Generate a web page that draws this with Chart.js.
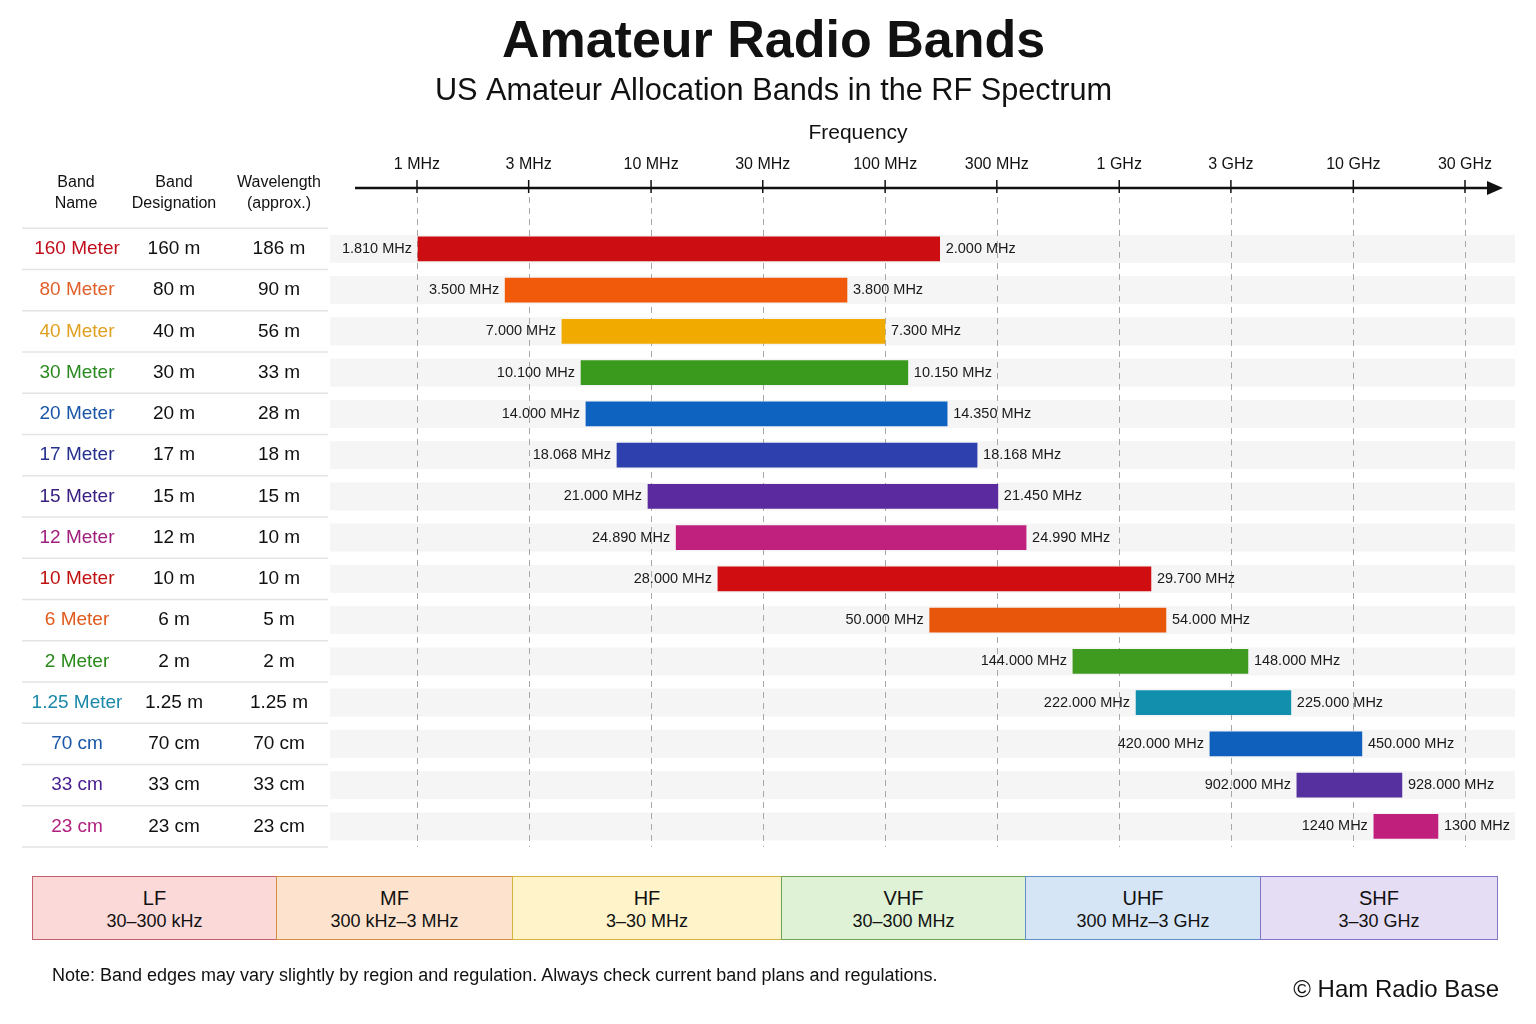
<!DOCTYPE html>
<html>
<head>
<meta charset="utf-8">
<script src="https://cdn.jsdelivr.net/npm/chart.js@4.4.1/dist/chart.umd.min.js"></script>
<style>
  body { margin: 0; background: #fff; font-family: "Liberation Sans", Arial, sans-serif; color: #111; }
  #wrap { position: relative; width: 1536px; height: 1024px; overflow: hidden; }
  #chart { position: absolute; left: 0; top: 0; }
  #bands { position: absolute; left: 33px; top: 876px; height: 64px; display: flex; }
  .band { box-sizing: border-box; height: 64px; border: 1.5px solid; margin-left: -1.5px; text-align: center; padding-top: 10px; }
  .band .n { font-size: 20px; line-height: 23px; }
  .band .r { font-size: 18px; line-height: 23px; }
  #note { position: absolute; left: 52px; top: 965px; font-size: 18px; }
  #copy { position: absolute; right: 37px; top: 975px; font-size: 24px; }
</style>
</head>
<body>
<div id="wrap">
  <canvas id="chart" width="1536" height="1024"></canvas>
  <div id="bands"></div>
  <div id="note">Note: Band edges may vary slightly by region and regulation. Always check current band plans and regulations.</div>
  <div id="copy">© Ham Radio Base</div>
</div>
<script>
// rows of the table
const bandNames = ["160 Meter", "80 Meter", "40 Meter", "30 Meter", "20 Meter", "17 Meter", "15 Meter", "12 Meter",
  "10 Meter", "6 Meter", "2 Meter", "1.25 Meter", "70 cm", "33 cm", "23 cm"];
const designations = ["160 m", "80 m", "40 m", "30 m", "20 m", "17 m", "15 m", "12 m", "10 m", "6 m", "2 m", "1.25 m", "70 cm", "33 cm", "23 cm"];
const wavelengths = ["186 m", "90 m", "56 m", "33 m", "28 m", "18 m", "15 m", "10 m", "10 m", "5 m", "2 m", "1.25 m", "70 cm", "33 cm", "23 cm"];

// edge labels printed next to each bar
const lowerEdges = ["1.810 MHz", "3.500 MHz", "7.000 MHz", "10.100 MHz", "14.000 MHz", "18.068 MHz", "21.000 MHz", "24.890 MHz",
  "28.000 MHz", "50.000 MHz", "144.000 MHz", "222.000 MHz", "420.000 MHz", "902.000 MHz", "1240 MHz"];
const upperEdges = ["2.000 MHz", "3.800 MHz", "7.300 MHz", "10.150 MHz", "14.350 MHz", "18.168 MHz", "21.450 MHz", "24.990 MHz",
  "29.700 MHz", "54.000 MHz", "148.000 MHz", "225.000 MHz", "450.000 MHz", "928.000 MHz", "1300 MHz"];

// bar extents as drawn on the frequency axis (MHz)
const barStart = [1.01, 2.38, 4.16, 5.02, 5.27, 7.15, 9.7, 12.8, 19.3, 155, 634, 1180, 2440, 5740, 12240];
const barEnd = [171, 68.7, 99.8, 125, 184, 247, 303, 400, 1366, 1583, 3546, 5410, 10880, 16130, 22990];

// axis ticks
const tickValues = [1, 3, 10, 30, 100, 300, 1000, 3000, 10000, 30000];
const tickLabels = ["1 MHz", "3 MHz", "10 MHz", "30 MHz", "100 MHz", "300 MHz", "1 GHz", "3 GHz", "10 GHz", "30 GHz"];

// ITU band strip at the bottom
const ituNames = ["LF", "MF", "HF", "VHF", "UHF", "SHF"];
const ituRanges = ["30–300 kHz", "300 kHz–3 MHz", "3–30 MHz", "30–300 MHz", "300 MHz–3 GHz", "3–30 GHz"];

const barColors = ["#cc0e12", "#f05a0a", "#f0aa00", "#3a9a1e", "#0e62c0", "#2e3fae", "#5a2a9e", "#c0207e",
  "#d00e12", "#e8560c", "#3f9a20", "#138fae", "#0e60bc", "#55309e", "#c0207c"];
const nameColors = ["#c0101e", "#e0602a", "#e0a020", "#2a8a20", "#1a56a8", "#25308e", "#3a2080", "#a0207e",
  "#c01010", "#e05a1e", "#2a8a1a", "#1a88a8", "#1a56a8", "#4a2090", "#b0207e"];
const ituFill = ["#fbd9d9", "#fde3cd", "#fff3c9", "#dff2d5", "#d5e5f5", "#e5ddf3"];
const ituBorder = ["#c2606e", "#d39148", "#d6b440", "#6ea552", "#6390c4", "#8475c6"];
const ituWidth = [246, 237, 271, 245, 237, 238];

const FONT = '"Liberation Sans", Arial, sans-serif';
const PAD_LEFT = 32;

const bandsDiv = document.getElementById('bands');
ituNames.forEach((n, i) => {
  const d = document.createElement('div');
  d.className = 'band';
  d.style.width = ituWidth[i] + 'px';
  d.style.background = ituFill[i];
  d.style.borderColor = ituBorder[i];
  d.innerHTML = '<div class="n">' + n + '</div><div class="r">' + ituRanges[i] + '</div>';
  bandsDiv.appendChild(d);
});

const decor = {
  id: 'decor',
  beforeDatasetsDraw(chart) {
    const { ctx, chartArea, scales: { x, y } } = chart;
    const rowH = (chartArea.bottom - chartArea.top) / bandNames.length;
    ctx.save();

    // row stripes
    ctx.fillStyle = '#f5f5f5';
    bandNames.forEach((_, i) => {
      const cy = y.getPixelForValue(i);
      ctx.fillRect(chartArea.left, cy - 14, chartArea.right - chartArea.left, 28);
    });

    // table
    ctx.strokeStyle = '#e4e4e4';
    ctx.lineWidth = 1.5;
    for (let k = 0; k <= bandNames.length; k++) {
      const ly = chartArea.top + k * rowH;
      ctx.beginPath();
      ctx.moveTo(22, ly);
      ctx.lineTo(chartArea.left - 2, ly);
      ctx.stroke();
    }
    ctx.textAlign = 'center';
    ctx.textBaseline = 'middle';
    ctx.fillStyle = '#111';
    ctx.font = '16px ' + FONT;
    [["Band", "Name", 76], ["Band", "Designation", 174], ["Wavelength", "(approx.)", 279]].forEach(h => {
      ctx.fillText(h[0], h[2], 183);
      ctx.fillText(h[1], h[2], 204);
    });
    ctx.font = '19px ' + FONT;
    bandNames.forEach((n, i) => {
      const cy = y.getPixelForValue(i);
      ctx.fillStyle = nameColors[i];
      ctx.fillText(n, 77, cy);
      ctx.fillStyle = '#111';
      ctx.fillText(designations[i], 174, cy);
      ctx.fillText(wavelengths[i], 279, cy);
    });

    // dashed grid lines
    ctx.strokeStyle = '#a8a8a8';
    ctx.lineWidth = 1;
    ctx.setLineDash([6, 5]);
    tickValues.forEach(v => {
      const px = Math.round(x.getPixelForValue(v)) + 0.5;
      ctx.beginPath();
      ctx.moveTo(px, 197);
      ctx.lineTo(px, chartArea.bottom);
      ctx.stroke();
    });
    ctx.setLineDash([]);

    // frequency axis with arrow
    const axY = 188;
    ctx.strokeStyle = '#111';
    ctx.fillStyle = '#111';
    ctx.lineWidth = 2.5;
    ctx.beginPath();
    ctx.moveTo(355, axY);
    ctx.lineTo(1490, axY);
    ctx.stroke();
    ctx.beginPath();
    ctx.moveTo(1503, axY);
    ctx.lineTo(1487, axY - 7);
    ctx.lineTo(1487, axY + 7);
    ctx.closePath();
    ctx.fill();
    ctx.lineWidth = 1.5;
    ctx.font = '16px ' + FONT;
    ctx.textAlign = 'center';
    tickValues.forEach((v, i) => {
      const px = x.getPixelForValue(v);
      ctx.beginPath();
      ctx.moveTo(px, axY - 8);
      ctx.lineTo(px, axY + 5);
      ctx.stroke();
      ctx.fillText(tickLabels[i], px, 165);
    });
    ctx.font = '21px ' + FONT;
    ctx.fillText('Frequency', 858, 133);
    ctx.restore();
  },
  afterDatasetsDraw(chart) {
    const { ctx } = chart;
    const meta = chart.getDatasetMeta(0);
    ctx.save();
    ctx.font = '14.5px ' + FONT;
    ctx.fillStyle = '#1a1a1a';
    ctx.textBaseline = 'middle';
    meta.data.forEach((el, i) => {
      const p = el.getProps(['x', 'base', 'y'], true);
      const lo = Math.min(p.x, p.base), hi = Math.max(p.x, p.base);
      ctx.textAlign = 'right';
      ctx.fillText(lowerEdges[i], lo - 6, p.y);
      ctx.textAlign = 'left';
      ctx.fillText(upperEdges[i], hi + 6, p.y);
    });
    ctx.restore();
  }
};

new Chart(document.getElementById('chart'), {
  type: 'bar',
  data: {
    labels: bandNames,
    datasets: [{
      data: bandNames.map((_, i) => [barStart[i], barEnd[i]]),
      backgroundColor: barColors,
      borderWidth: 0,
      barThickness: 24
    }]
  },
  options: {
    indexAxis: 'y',
    responsive: false,
    animation: false,
    layout: { padding: { left: PAD_LEFT, right: 21, top: 0, bottom: 177 } },
    plugins: {
      legend: { display: false },
      tooltip: { enabled: false },
      title: {
        display: true,
        text: 'Amateur Radio Bands',
        color: '#111',
        font: { family: FONT, size: 52, weight: 'bold', lineHeight: 1.2 },
        padding: { top: 11, bottom: 0 }
      },
      subtitle: {
        display: true,
        text: 'US Amateur Allocation Bands in the RF Spectrum',
        color: '#111',
        font: { family: FONT, size: 30.7, lineHeight: 1.2 },
        padding: { top: 0, bottom: 118 }
      }
    },
    scales: {
      x: { type: 'logarithmic', min: 0.425, max: 49060, display: false },
      y: {
        type: 'category',
        ticks: { display: false },
        grid: { display: false },
        border: { display: false },
        afterFit: s => { s.width = 330 - PAD_LEFT; }
      }
    }
  },
  plugins: [decor]
});
</script>
</body>
</html>
